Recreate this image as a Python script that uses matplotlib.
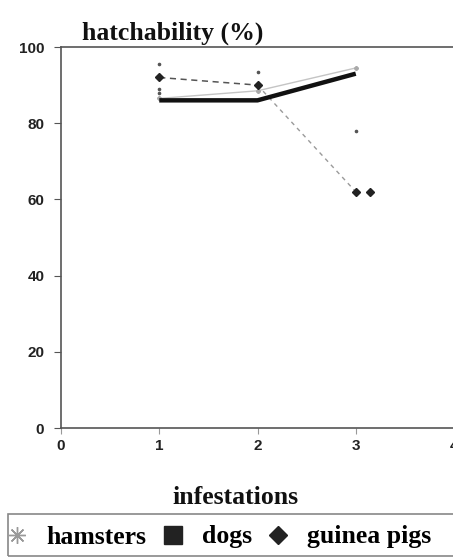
import matplotlib.pyplot as plt
from matplotlib.lines import Line2D
from matplotlib.patches import Rectangle

infestations = [1, 2, 3]
hamsters = [86.5, 88.5, 94.5]
dogs = [86, 86, 93]
guinea_pigs = [92, 90, 62]

# scattered error-bar ends
err_x = [1, 1, 1, 2, 3]
err_y = [95.5, 89, 87.8, 93.5, 78]
stray_x = [3.15]
stray_y = [62]

x_ticks = [0, 1, 2, 3, 4]
x_labels = ['0', '1', '2', '3', '4']
y_ticks = [0, 20, 40, 60, 80, 100]

serif = ['Liberation Serif', 'DejaVu Serif']
sans = ['Liberation Sans', 'DejaVu Sans']

fig = plt.figure(figsize=(4.53, 5.58), dpi=100)
ax = fig.add_axes([61 / 453, 1 - 428 / 558, 393 / 453, 381 / 558])

ax.plot(infestations, hamsters, color='#c4c4c4', lw=1.0,
        marker=(8, 2, 0), ms=3, mec='#aaaaaa')
# guinea pigs: darker dashes for the first step, paler for the drop
ax.plot(infestations[:2], guinea_pigs[:2], color='#555555', lw=1.1, ls=(0, (4, 3)))
ax.plot(infestations[1:], guinea_pigs[1:], color='#9a9a9a', lw=1.0, ls=(0, (3, 3)))
ax.plot(infestations, guinea_pigs, ls='none', marker='D', ms=3.6, color='#222222')
ax.plot(infestations, dogs, color='#111111', lw=3.2, solid_capstyle='butt')
ax.plot(err_x, err_y, ls='none', marker='o', ms=1.6, color='#555555')
ax.plot(stray_x, stray_y, ls='none', marker='D', ms=3.6, color='#222222')

ax.set_xlim(0, 4)
ax.set_ylim(0, 100)
ax.set_xticks(x_ticks)
ax.set_xticklabels(x_labels)
ax.set_yticks(y_ticks)
for lab in ax.get_xticklabels() + ax.get_yticklabels():
    lab.set_family(sans)
    lab.set_fontweight('bold')
    lab.set_fontsize(11)
    lab.set_color('#222222')
ax.tick_params(axis='y', direction='out', length=5, width=0.8, color='#555555', pad=7)
ax.tick_params(axis='x', direction='out', length=4, width=0.8, color='#999999', pad=4)

for side in ['left', 'bottom', 'top']:
    ax.spines[side].set_color('#555555')
    ax.spines[side].set_linewidth(1.2)
ax.spines['right'].set_visible(False)

fig.text(82 / 453, 1 - 33 / 558, 'hatchability (%)', family=serif,
         fontweight='bold', fontsize=18.5, va='center', ha='left', color='#111111')
fig.text(235 / 453, 1 - 497 / 558, 'infestations', family=serif,
         fontweight='bold', fontsize=18.5, va='center', ha='center', color='#111111')

# legend frame runs off the right edge like the scan
fig.patches.append(Rectangle((8 / 453, 2 / 558), 460 / 453, 42 / 558,
                             transform=fig.transFigure, fill=False,
                             edgecolor='#888888', lw=1.2))
handles = [
    Line2D([], [], ls='none', marker=(8, 2, 0), ms=12, mec='#999999', mew=1.0),
    Line2D([], [], ls='none', marker='s', ms=13, color='#222222'),
    Line2D([], [], ls='none', marker='D', ms=9, color='#222222'),
]
leg = fig.legend(handles, ['hamsters', 'dogs', 'guinea pigs'], ncol=3,
                 loc='center left', bbox_to_anchor=(7 / 453, 21 / 558),
                 frameon=False, handlelength=0.8,
                 handletextpad=0.75, columnspacing=0.6, borderaxespad=0,
                 borderpad=0,
                 prop={'family': serif, 'weight': 'bold', 'size': 18.5})

fig.savefig('out.png', dpi=100)
